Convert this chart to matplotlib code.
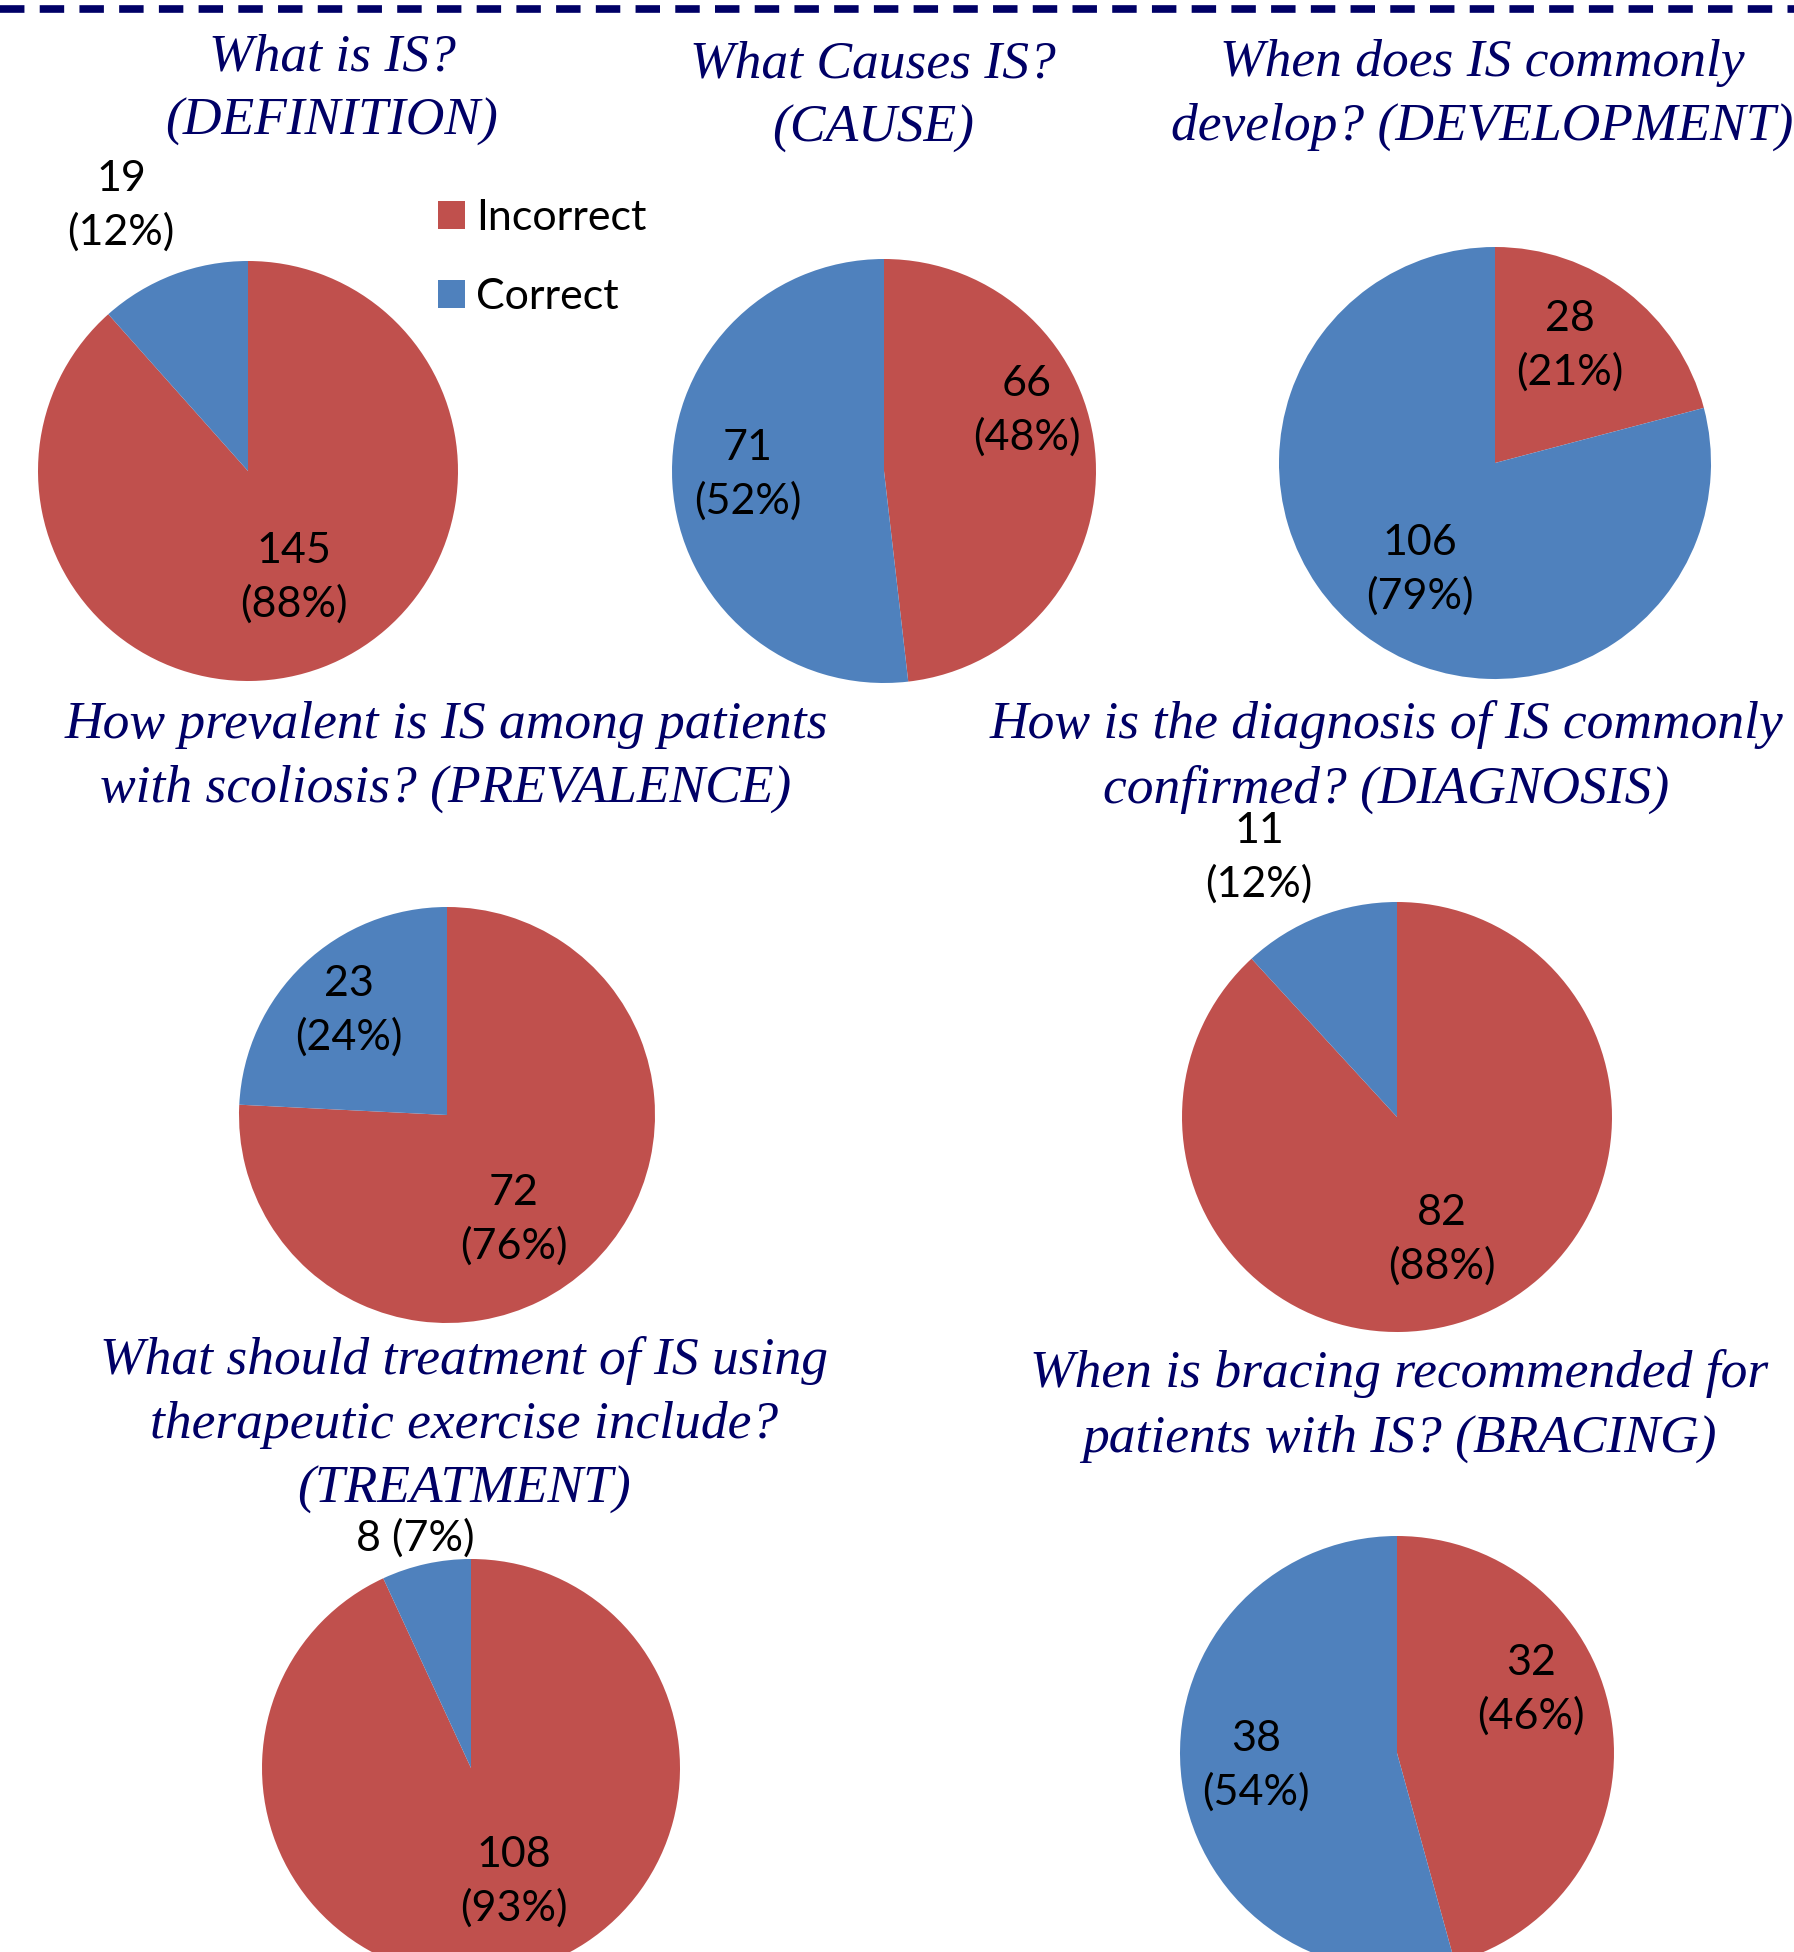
import matplotlib
matplotlib.use("Agg")
import matplotlib.pyplot as plt
from matplotlib.lines import Line2D

# ---------------- data ----------------
categories = ["Incorrect", "Correct"]
titles = [
    "What is IS?\n(DEFINITION)",
    "What Causes IS?\n(CAUSE)",
    "When does IS commonly\ndevelop? (DEVELOPMENT)",
    "How prevalent is IS among patients\nwith scoliosis? (PREVALENCE)",
    "How is the diagnosis of IS commonly\nconfirmed? (DIAGNOSIS)",
    "What should treatment of IS using\ntherapeutic exercise include?\n(TREATMENT)",
    "When is bracing recommended for\npatients with IS? (BRACING)",
]
incorrect = [145, 66, 28, 72, 82, 108, 32]
correct = [19, 71, 106, 23, 11, 8, 38]
incorrect_sep = ["\n", "\n", "\n", "\n", "\n", "\n", "\n"]
correct_sep = ["\n", "\n", "\n", "\n", "\n", " ", "\n"]

# ---------------- layout (pixels in the 1794x1952 canvas) ----------------
W, H = 1794, 1952
RED, BLUE = "#C0504D", "#4F81BD"
NAVY = "#000066"

pie_geom = [  # cx, cy, r
    (248, 471, 210),
    (884, 471, 212),
    (1495, 463, 216),
    (447, 1115, 208),
    (1397, 1117, 215),
    (471, 1768, 209),
    (1397, 1753, 217),
]
# label offsets (in radius units, y up): incorrect, correct
lab_off = [
    ((0.219, -0.51), (-0.605, 1.262)),
    ((0.675, 0.283), (-0.642, -0.019)),
    ((0.347, 0.542), (-0.347, -0.495)),
    ((0.322, -0.505), (-0.471, 0.50)),
    ((0.209, -0.572), (-0.642, 1.205)),
    ((0.206, -0.545), (-0.268, 1.10)),
    ((0.618, 0.29), (-0.65, -0.06)),
]
title_pos = [(332, 90), (873, 97), (1482, 95), (446, 757), (1386, 757),
             (464, 1425), (1399, 1406)]

fig = plt.figure(figsize=(W / 100, H / 100), dpi=100)
fig.patch.set_facecolor("white")

LABEL_FONT = ["Lato", "DejaVu Sans"]
TITLE_FONT = ["Liberation Serif", "DejaVu Serif"]
LABEL_SIZE = 31

first_wedges = None
for i in range(7):
    cx, cy, r = pie_geom[i]
    ax = fig.add_axes([(cx - r) / W, 1 - (cy + r) / H, 2 * r / W, 2 * r / H])
    vals = [incorrect[i], correct[i]]
    total = sum(vals)
    wedges, _ = ax.pie(vals, colors=[RED, BLUE], startangle=90,
                       counterclock=False, radius=1,
                       wedgeprops=dict(linewidth=0))
    ax.set_xlim(-1, 1)
    ax.set_ylim(-1, 1)
    ax.set_aspect("auto")
    ax.axis("off")
    if first_wedges is None:
        first_wedges = wedges
    seps = [incorrect_sep[i], correct_sep[i]]
    for k, v in enumerate(vals):
        pct = round(100 * v / total)
        dx, dy = lab_off[i][k]
        ax.text(dx, dy, f"{v}{seps[k]}({pct}%)", ha="center", va="center",
                fontsize=LABEL_SIZE, family=LABEL_FONT, color="black",
                linespacing=1.43, clip_on=False)
    tx, ty = title_pos[i]
    fig.text(tx / W, 1 - ty / H, titles[i], ha="center", va="center",
             fontsize=38.5, family=TITLE_FONT, style="italic", color=NAVY,
             linespacing=1.43)

# legend
fig.legend(first_wedges, categories, loc="upper left",
           bbox_to_anchor=(438 / W, 1 - 199 / H), frameon=False,
           prop=dict(family=LABEL_FONT, size=LABEL_SIZE), handlelength=0.63,
           handleheight=0.63, handletextpad=0.25, labelspacing=0.96,
           borderaxespad=0, borderpad=0)

# top dashed rule
fig.add_artist(Line2D([0, 1], [1 - 9 / H, 1 - 9 / H], transform=fig.transFigure,
                      color=NAVY, linewidth=5.5, dashes=(3.2, 2.0),
                      solid_capstyle="butt", dash_capstyle="butt"))

fig.savefig("out.png", dpi=100)
